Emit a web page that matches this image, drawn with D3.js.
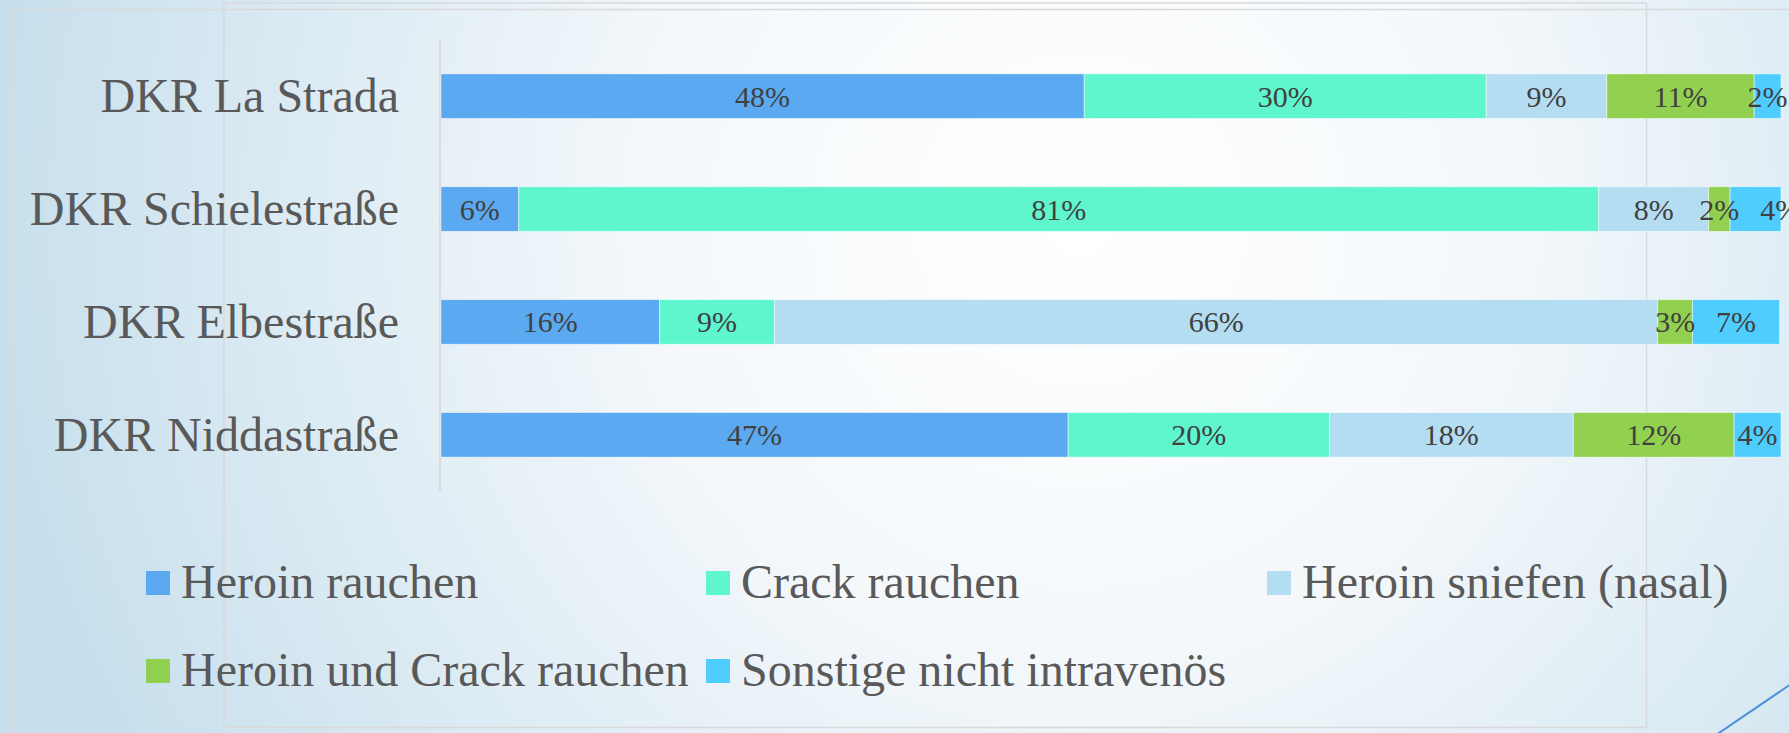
<!DOCTYPE html>
<html>
<head>
<meta charset="utf-8">
<script src="https://cdn.jsdelivr.net/npm/d3@7"></script>
<style>
  body { margin: 0; overflow: hidden; }
  svg { display: block; font-family: "Liberation Serif", "Times New Roman", serif; }
</style>
</head>
<body>
<div id="chart"></div>
<script>
// facilities, top to bottom
var sites = ["DKR La Strada", "DKR Schielestraße", "DKR Elbestraße", "DKR Niddastraße"];

var seriesNames = ["Heroin rauchen", "Crack rauchen", "Heroin sniefen (nasal)", "Heroin und Crack rauchen", "Sonstige nicht intravenös"];

// percent per site, same order as sites
var heroinRauchen = [48, 5.8, 16.3, 46.8];
var crackRauchen = [30, 80.6, 8.6, 19.5];
var heroinNasal = [9, 8.2, 65.9, 18.2];
var heroinCrack = [11, 1.6, 2.6, 12.0];
var sonstige = [2, 3.8, 6.5, 3.5];

var colors = ["#5ba9f0", "#5ff5cd", "#b4ddf2", "#92d050", "#4fcdfe"];

var W = 1789, H = 733;

var svg = d3.select("#chart").append("svg")
  .attr("width", W)
  .attr("height", H);

// background
var defs = svg.append("defs");
var grad = defs.append("radialGradient")
  .attr("id", "bg")
  .attr("gradientUnits", "userSpaceOnUse")
  .attr("cx", 1080).attr("cy", 220).attr("r", 1080);
grad.append("stop").attr("offset", "0%").attr("stop-color", "#ffffff");
grad.append("stop").attr("offset", "40%").attr("stop-color", "#f4f8fb");
grad.append("stop").attr("offset", "100%").attr("stop-color", "#c8e0ed");

svg.append("rect").attr("width", W).attr("height", H).attr("fill", "url(#bg)");

// faint frames behind the chart
svg.append("rect")
  .attr("x", 12.5).attr("y", 9.5).attr("width", 1800).attr("height", 760)
  .attr("fill", "none").attr("stroke", "#d9d9d9").attr("stroke-width", 1.5);
svg.append("rect")
  .attr("x", 224).attr("y", 3).attr("width", 1422.5).attr("height", 724.5)
  .attr("fill", "none").attr("stroke", "#d9d9d9").attr("stroke-width", 1.5);

// blue corner line
svg.append("line")
  .attr("x1", 1716).attr("y1", 735).attr("x2", 1791).attr("y2", 684)
  .attr("stroke", "#4a90d9").attr("stroke-width", 2);

var data = sites.map(function(s, i) {
  return {
    site: s,
    "Heroin rauchen": heroinRauchen[i],
    "Crack rauchen": crackRauchen[i],
    "Heroin sniefen (nasal)": heroinNasal[i],
    "Heroin und Crack rauchen": heroinCrack[i],
    "Sonstige nicht intravenös": sonstige[i]
  };
});

var plot = { left: 441, right: 1781, top: 40, bottom: 491 };

var xScale = d3.scaleLinear()
  .domain([0, 100])
  .range([plot.left, plot.right]);

var yScale = d3.scaleBand()
  .domain(sites)
  .range([plot.top, plot.bottom])
  .paddingInner(0.605)
  .paddingOuter(0.3);

var color = d3.scaleOrdinal().domain(seriesNames).range(colors);

var stacked = d3.stack().keys(seriesNames)(data);

// vertical axis line
svg.append("line")
  .attr("x1", plot.left - 1).attr("x2", plot.left - 1)
  .attr("y1", plot.top).attr("y2", plot.bottom)
  .attr("stroke", "#d9d9d9").attr("stroke-width", 2);

// category labels
var yAxis = d3.axisLeft(yScale).tickSize(0).tickPadding(0);
var yAxisGroup = svg.append("g")
  .attr("transform", "translate(" + (plot.left - 42) + ",0)")
  .call(yAxis);
yAxisGroup.select(".domain").remove();
yAxisGroup.selectAll("text")
  .attr("font-family", "Liberation Serif, Times New Roman, serif")
  .attr("font-size", "48px")
  .attr("fill", "#595959")
  .attr("dy", "0.33em");

var layers = svg.selectAll(".layer")
  .data(stacked)
  .enter()
  .append("g")
  .attr("class", "layer")
  .attr("fill", d => color(d.key));

layers.selectAll("rect")
  .data(d => d)
  .enter()
  .append("rect")
  .attr("x", d => xScale(d[0]))
  .attr("y", d => yScale(d.data.site))
  .attr("width", d => xScale(d[1]) - xScale(d[0]))
  .attr("height", yScale.bandwidth())
  .attr("stroke", "#ffffff")
  .attr("stroke-opacity", 0.6)
  .attr("stroke-width", 0.8);

// value labels, centered in each segment
var labelLayer = svg.append("g");
stacked.forEach(function(layer) {
  layer.forEach(function(d) {
    labelLayer.append("text")
      .attr("class", "val")
      .attr("data-site", d.data.site)
      .attr("x", (xScale(d[0]) + xScale(d[1])) / 2)
      .attr("y", yScale(d.data.site) + yScale.bandwidth() / 2)
      .attr("dy", "0.35em")
      .attr("text-anchor", "middle")
      .attr("font-size", "30px")
      .attr("fill", "#404040")
      .text(Math.round(d[1] - d[0]) + "%");
  });
});

// push a label right if it collides with the one before it in the row
sites.forEach(function(s) {
  var prevEnd = -Infinity;
  labelLayer.selectAll("text.val").filter(function() {
    return d3.select(this).attr("data-site") === s;
  }).each(function() {
    var t = d3.select(this);
    var w = this.getComputedTextLength();
    var cx = +t.attr("x");
    if (cx - w / 2 < prevEnd) {
      cx = prevEnd + 21 + w / 2;
      t.attr("x", cx);
    }
    prevEnd = cx + w / 2;
  });
});

// legend
var legendPos = [
  { x: 146, y: 583 }, { x: 706, y: 583 }, { x: 1267, y: 583 },
  { x: 146, y: 671 }, { x: 706, y: 671 }
];

var legend = svg.selectAll(".legend")
  .data(seriesNames)
  .enter()
  .append("g")
  .attr("class", "legend")
  .attr("transform", (d, i) => "translate(" + legendPos[i].x + "," + legendPos[i].y + ")");

legend.append("rect")
  .attr("x", 0).attr("y", -12)
  .attr("width", 24).attr("height", 24)
  .attr("fill", d => color(d));

legend.append("text")
  .attr("x", 35)
  .attr("y", 15)
  .attr("font-size", "48px")
  .attr("fill", "#595959")
  .text(d => d);
</script>
</body>
</html>
